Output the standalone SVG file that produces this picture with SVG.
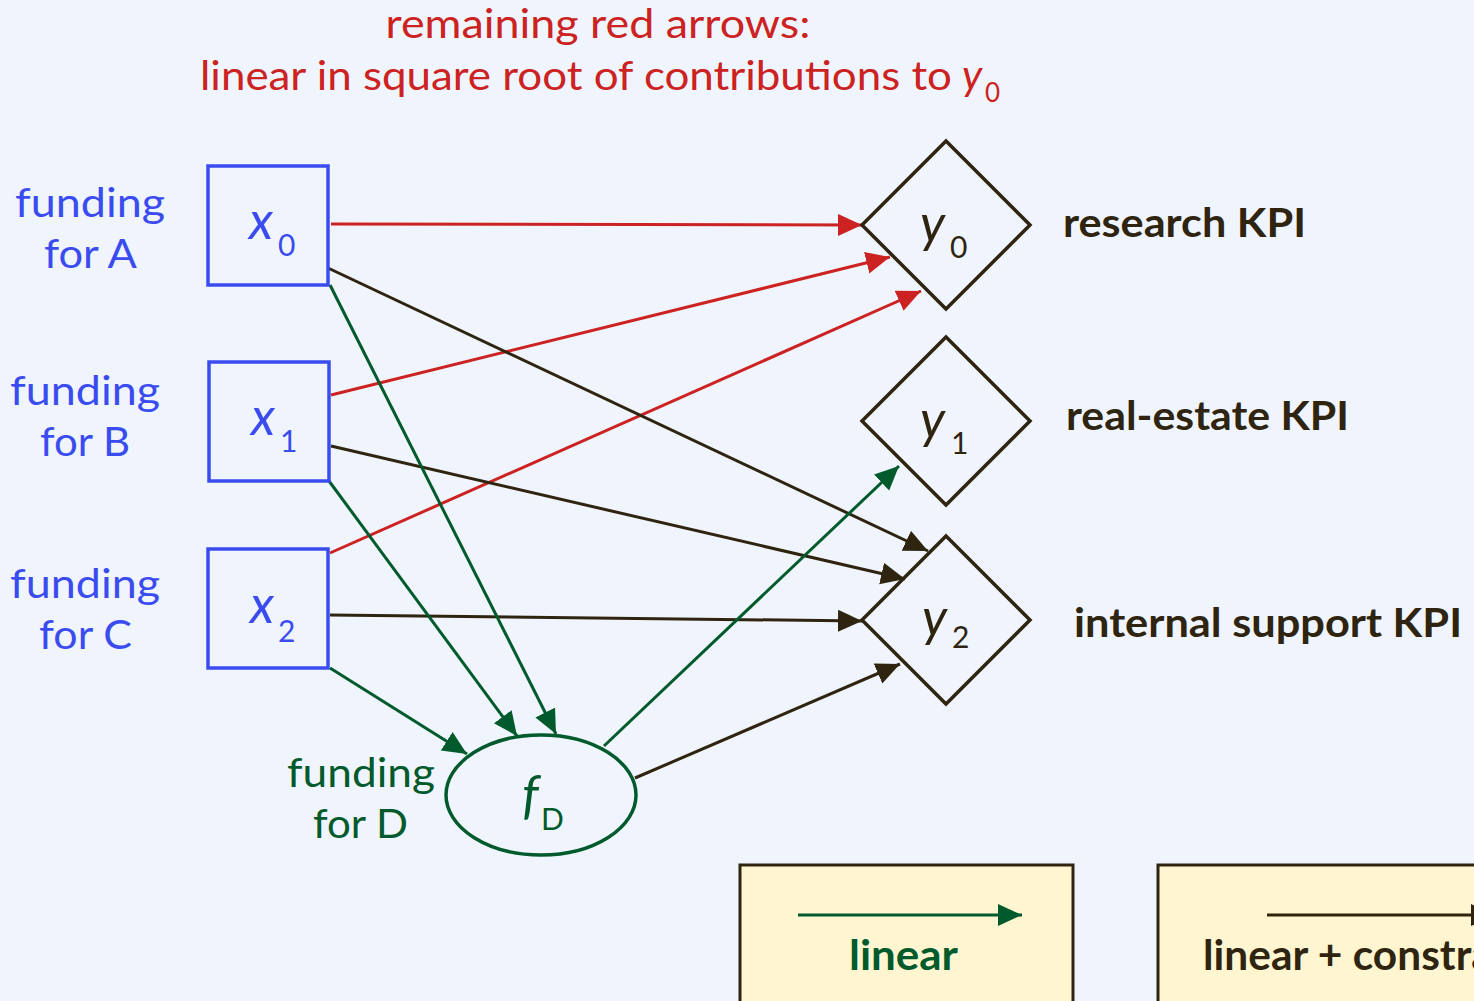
<svg xmlns="http://www.w3.org/2000/svg" width="1474" height="1001" viewBox="0 0 1474 1001">
<defs>
<style>
text{font-family:Lato,"Open Sans","Liberation Sans",sans-serif}
.t{fill:#cc2222;font-size:40px}
.fb{fill:#3a4cf0;font-size:41px}
.fg{fill:#005a2c;font-size:41px}
.kpi{fill:#2e2410;font-size:40px;font-weight:bold}
.nk{fill:#2e2410}
.var{font-style:italic;font-size:52px;font-weight:normal}
.sub{font-size:30px;font-weight:normal}
.box{fill:none;stroke:#3a4cf0;stroke-width:3.5}
.dia{fill:none;stroke:#2e2410;stroke-width:3.5}
.ell{fill:none;stroke:#005a2c;stroke-width:3.5}
.r{stroke:#cc2222;stroke-width:3;fill:none;marker-end:url(#ar)}
.k{stroke:#2e2410;stroke-width:3;fill:none;marker-end:url(#ak)}
.g{stroke:#005a2c;stroke-width:3;fill:none;marker-end:url(#ag)}
.leg{fill:#fff5d0;stroke:#2e2410;stroke-width:3}
.lt{font-size:42px;font-weight:bold}
</style>
<marker id="ar" markerUnits="userSpaceOnUse" markerWidth="26" markerHeight="24" refX="24" refY="11" orient="auto"><path d="M0,0 L24,11 L0,22 z" fill="#cc2222"/></marker>
<marker id="ak" markerUnits="userSpaceOnUse" markerWidth="26" markerHeight="24" refX="24" refY="11" orient="auto"><path d="M0,0 L24,11 L0,22 z" fill="#2e2410"/></marker>
<marker id="ag" markerUnits="userSpaceOnUse" markerWidth="26" markerHeight="24" refX="24" refY="11" orient="auto"><path d="M0,0 L24,11 L0,22 z" fill="#005a2c"/></marker>
</defs>
<rect width="1474" height="1001" fill="#f0f5fd"/>

<g id="title">
<text class="t" x="598" y="38" text-anchor="middle" textLength="425" lengthAdjust="spacingAndGlyphs">remaining red arrows:</text>
<text class="t" x="200" y="90" textLength="752" lengthAdjust="spacingAndGlyphs">linear in square root of contributions to</text>
<text class="t" x="962" y="90" style="font-style:italic;font-size:42px">y</text>
<text class="t" x="985" y="102" style="font-size:26px">0</text>
</g>

<g id="connectors">
<line class="r" x1="331" y1="224" x2="862" y2="225"/>
<line class="r" x1="331" y1="395" x2="890" y2="257"/>
<line class="r" x1="330" y1="553" x2="921" y2="291"/>
<line class="k" x1="328" y1="268" x2="928" y2="551"/>
<line class="k" x1="331" y1="446" x2="905" y2="579"/>
<line class="k" x1="330" y1="615" x2="862" y2="621"/>
<line class="k" x1="635" y1="778" x2="900" y2="664"/>
<line class="g" x1="330" y1="285" x2="556" y2="734"/>
<line class="g" x1="329" y1="481" x2="517" y2="736"/>
<line class="g" x1="330" y1="668" x2="467" y2="754"/>
<line class="g" x1="604" y1="746" x2="899" y2="466"/>
</g>

<g id="x0">
<rect class="box" x="208" y="166" width="120" height="119"/>
<text class="fb var" x="249" y="239">x</text><text class="fb sub" x="278" y="256">0</text>
<text class="fb" x="15" y="217" textLength="150" lengthAdjust="spacingAndGlyphs">funding</text>
<text class="fb" x="44" y="268" textLength="93" lengthAdjust="spacingAndGlyphs">for A</text>
</g>
<g id="x1">
<rect class="box" x="209" y="362" width="120" height="119"/>
<text class="fb var" x="251" y="435">x</text><text class="fb sub" x="280" y="452">1</text>
<text class="fb" x="10" y="405" textLength="150" lengthAdjust="spacingAndGlyphs">funding</text>
<text class="fb" x="40" y="456" textLength="90" lengthAdjust="spacingAndGlyphs">for B</text>
</g>
<g id="x2">
<rect class="box" x="208" y="549" width="120" height="119"/>
<text class="fb var" x="250" y="623">x</text><text class="fb sub" x="278" y="642">2</text>
<text class="fb" x="10" y="598" textLength="150" lengthAdjust="spacingAndGlyphs">funding</text>
<text class="fb" x="39" y="649" textLength="93" lengthAdjust="spacingAndGlyphs">for C</text>
</g>

<g id="y0">
<polygon class="dia" points="946,141 1030,225 946,309 862,225"/>
<text class="nk var" x="920" y="242">y</text><text class="nk sub" x="950" y="258">0</text>
<text class="kpi" x="1063" y="237" textLength="243" lengthAdjust="spacingAndGlyphs">research KPI</text>
</g>
<g id="y1">
<polygon class="dia" points="946,337 1030,421 946,505 862,421"/>
<text class="nk var" x="920" y="438">y</text><text class="nk sub" x="951" y="454">1</text>
<text class="kpi" x="1066" y="430" textLength="283" lengthAdjust="spacingAndGlyphs">real-estate KPI</text>
</g>
<g id="y2">
<polygon class="dia" points="946,536 1030,620 946,704 862,620"/>
<text class="nk var" x="922" y="636">y</text><text class="nk sub" x="952" y="648">2</text>
<text class="kpi" x="1074" y="637" textLength="388" lengthAdjust="spacingAndGlyphs">internal support KPI</text>
</g>

<g id="fD">
<ellipse class="ell" cx="541" cy="795" rx="95" ry="60"/>
<text class="fg var" x="522" y="813">f</text><text class="fg sub" x="541" y="830">D</text>
<text class="fg" x="287" y="787" textLength="148" lengthAdjust="spacingAndGlyphs">funding</text>
<text class="fg" x="313" y="838" textLength="95" lengthAdjust="spacingAndGlyphs">for D</text>
</g>

<g id="legend-linear">
<rect class="leg" x="740" y="865" width="333" height="150"/>
<line class="g" x1="798" y1="915" x2="1022" y2="915"/>
<text class="lt" x="849" y="970" textLength="109" lengthAdjust="spacingAndGlyphs" fill="#005a2c">linear</text>
</g>
<g id="legend-constr">
<rect class="leg" x="1158" y="865" width="340" height="150"/>
<line class="k" x1="1267" y1="915" x2="1495" y2="915"/>
<text class="lt" x="1203" y="970" textLength="340" lengthAdjust="spacingAndGlyphs" fill="#2e2410">linear + constraint</text>
</g>
</svg>
